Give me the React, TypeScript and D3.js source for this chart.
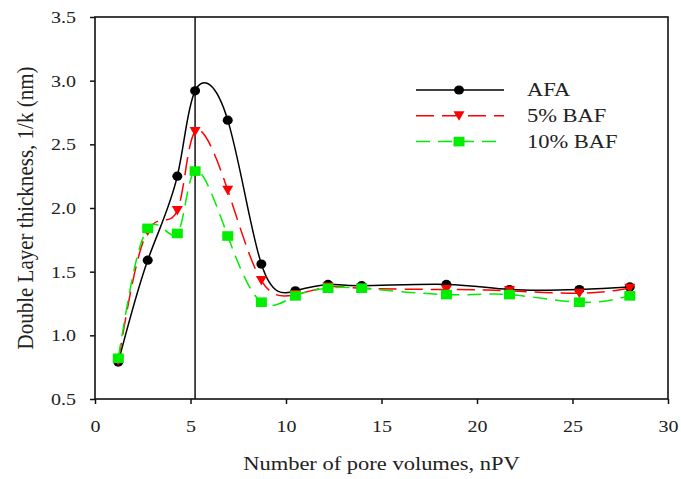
import React, { useEffect, useRef } from "react";
import * as d3 from "d3";

// pore volumes (nPV) shared by all three series
const porVolumes = [1.22, 2.76, 4.31, 5.24, 6.95, 8.71, 10.49, 12.2, 13.96, 18.4, 21.7, 25.36, 28.0];
const afa = [0.79, 1.59, 2.25, 2.92, 2.69, 1.56, 1.35, 1.4, 1.39, 1.4, 1.36, 1.36, 1.38];
const baf5 = [0.8, 1.82, 1.98, 2.6, 2.14, 1.43, 1.32, 1.38, 1.37, 1.36, 1.35, 1.33, 1.37];
const baf10 = [0.82, 1.84, 1.8, 2.29, 1.78, 1.26, 1.31, 1.37, 1.37, 1.32, 1.32, 1.26, 1.31];
const seriesNames = ["AFA", "5% BAF", "10% BAF"];
const xTicks = [0, 5, 10, 15, 20, 25, 30];
const yTicks = [0.5, 1.0, 1.5, 2.0, 2.5, 3.0, 3.5];
const markerX = 5.24; // vertical reference line

function App() {
  const svgRef = useRef(null);
  const [width, height] = [681, 479];
  const margin = { top: 17, right: 13, bottom: 80, left: 95 };
  const sx = 1.25; // the original picture is stretched horizontally

  useEffect(() => {
    const svg = d3.select(svgRef.current);
    svg.selectAll("*").remove();

    const x = d3.scaleLinear().domain([0, 30]).range([margin.left, width - margin.right]);
    const y = d3.scaleLinear().domain([0.5, 3.5]).range([height - margin.bottom, margin.top]);
    const font = "'Liberation Serif', 'Times New Roman', serif";

    const series = [
      { name: seriesNames[0], values: afa, color: "#000000", dash: null, shape: "circle" },
      { name: seriesNames[1], values: baf5, color: "#ff0000", dash: "18,8", shape: "tri" },
      { name: seriesNames[2], values: baf10, color: "#00ee00", dash: "14,8", shape: "square" },
    ];

    const drawMarker = (g, shape, color, cx, cy) => {
      if (shape === "circle") {
        g.append("ellipse").attr("cx", cx).attr("cy", cy).attr("rx", 5).attr("ry", 4.6).attr("fill", color);
      } else if (shape === "tri") {
        g.append("path")
          .attr("d", `M${cx - 5.5},${cy - 4.5}L${cx + 5.5},${cy - 4.5}L${cx},${cy + 5}Z`)
          .attr("fill", color);
      } else {
        g.append("rect").attr("x", cx - 5.5).attr("y", cy - 4.8).attr("width", 11).attr("height", 9.6).attr("fill", color);
      }
    };

    // frame
    svg.append("rect")
      .attr("x", x(0)).attr("y", y(3.5))
      .attr("width", x(30) - x(0)).attr("height", y(0.5) - y(3.5))
      .attr("fill", "none").attr("stroke", "#111").attr("stroke-width", 1.6);

    // vertical reference line
    svg.append("line")
      .attr("x1", x(markerX)).attr("x2", x(markerX))
      .attr("y1", y(0.5)).attr("y2", y(3.5))
      .attr("stroke", "#111").attr("stroke-width", 1.5);

    // axes
    const xAxis = svg.append("g")
      .attr("transform", `translate(0,${y(0.5)})`)
      .call(d3.axisBottom(x).tickValues(xTicks).tickSize(5).tickPadding(0).tickFormat(d3.format("d")));
    const yAxis = svg.append("g")
      .attr("transform", `translate(${x(0)},0)`)
      .call(d3.axisLeft(y).tickValues(yTicks).tickSize(5).tickPadding(0).tickFormat(d3.format(".1f")));
    [xAxis, yAxis].forEach((a) => {
      a.select(".domain").remove();
      a.selectAll(".tick line").attr("stroke", "#111").attr("stroke-width", 1.5);
      a.selectAll(".tick text")
        .attr("fill", "#222").attr("font-family", font).attr("font-size", 16);
    });
    xAxis.selectAll(".tick text")
      .attr("y", 0).attr("dy", 0)
      .attr("transform", `translate(0,33) scale(${sx},1)`);
    yAxis.selectAll(".tick text")
      .attr("x", 0).attr("dy", "0.34em")
      .attr("transform", `translate(-19,0) scale(${sx},1)`);

    // series lines and markers
    const line = d3.line()
      .x((d) => x(d[0]))
      .y((d) => y(d[1]))
      .curve(d3.curveNatural);

    series.forEach((s) => {
      const pts = porVolumes.map((v, i) => [v, s.values[i]]);
      svg.append("path")
        .datum(pts)
        .attr("d", line)
        .attr("fill", "none")
        .attr("stroke", s.color)
        .attr("stroke-width", 1.5)
        .attr("stroke-dasharray", s.dash);
      const g = svg.append("g");
      pts.forEach((p) => drawMarker(g, s.shape, s.color, x(p[0]), y(p[1])));
    });

    // legend
    series.forEach((s, i) => {
      const ly = 90 + i * 25.8;
      const g = svg.append("g");
      g.append("line")
        .attr("x1", 416).attr("x2", 504).attr("y1", ly).attr("y2", ly)
        .attr("stroke", s.color).attr("stroke-width", 1.5)
        .attr("stroke-dasharray", s.dash);
      drawMarker(g, s.shape, s.color, 459, ly);
      g.append("text")
        .attr("transform", `translate(527,${ly + 6}) scale(${sx},1)`)
        .attr("font-family", font).attr("font-size", 18).attr("fill", "#222")
        .text(s.name);
    });

    // axis titles
    svg.append("text")
      .attr("transform", `translate(${(x(0) + x(30)) / 2},470) scale(${sx},1)`)
      .attr("text-anchor", "middle")
      .attr("font-family", font).attr("font-size", 18).attr("fill", "#222")
      .text("Number of pore volumes, nPV");
    svg.append("text")
      .attr("transform", `translate(33,${(y(0.5) + y(3.5)) / 2}) scale(${sx},1) rotate(-90)`)
      .attr("text-anchor", "middle")
      .attr("textLength", 283)
      .attr("lengthAdjust", "spacingAndGlyphs")
      .attr("font-family", font).attr("font-size", 19).attr("fill", "#222")
      .text("Double Layer thickness, 1/k (nm)");
  }, []);

  return (
    <div>
      <svg ref={svgRef} width={width} height={height}
        style={{ position: "absolute", left: 0, top: 0, background: "#fff" }}></svg>
    </div>
  );
}

export default App;
